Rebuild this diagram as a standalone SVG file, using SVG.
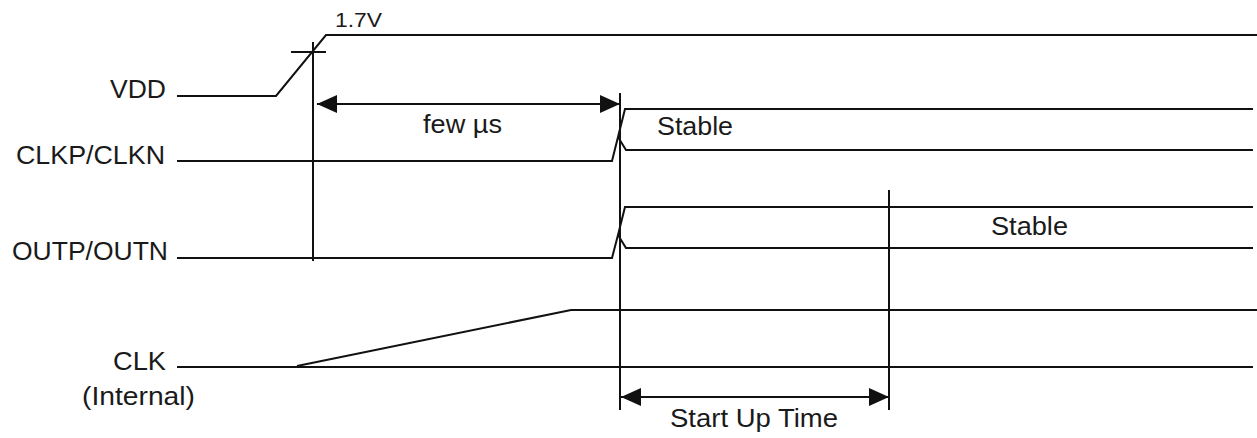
<svg xmlns="http://www.w3.org/2000/svg" width="1257" height="438" viewBox="0 0 1257 438">
<style>
.w{fill:none;stroke:#111;stroke-width:2;stroke-linejoin:miter}
.t{font-family:"Liberation Sans",Arial,sans-serif;font-size:25px;fill:#1a1a1a}
.s{font-size:20px}
.e{text-anchor:end}
</style>
<defs>
<marker id="ah" viewBox="0 0 20 18" refX="20" refY="9" markerWidth="20" markerHeight="18" markerUnits="userSpaceOnUse" orient="auto-start-reverse">
<path d="M0,0 L20,9 L0,18 z" fill="#111"/>
</marker>
</defs>
<rect width="1257" height="438" fill="#fff"/>

<g id="vdd">
<text class="t" x="110" y="98" textLength="56" lengthAdjust="spacingAndGlyphs">VDD</text>
<polyline class="w" points="177,96 276,96 326,35 1257,35"/>
<line class="w" x1="291" y1="52" x2="326" y2="52"/>
<text class="t s" x="335" y="27" textLength="47" lengthAdjust="spacingAndGlyphs">1.7V</text>
</g>

<g id="clkp-clkn">
<text class="t" x="16" y="164" textLength="149" lengthAdjust="spacingAndGlyphs">CLKP/CLKN</text>
<polyline class="w" points="177,161 612,161 618,137 625,109 1253,109"/>
<polyline class="w" points="618,137 626,150 1253,150"/>
<text class="t" x="657" y="135" textLength="76" lengthAdjust="spacingAndGlyphs">Stable</text>
</g>

<g id="outp-outn">
<text class="t" x="12" y="260" textLength="156" lengthAdjust="spacingAndGlyphs">OUTP/OUTN</text>
<polyline class="w" points="177,258 612,258 618,235 625,207 1253,207"/>
<polyline class="w" points="618,235 626,248 1253,248"/>
<text class="t" x="991" y="235" textLength="77" lengthAdjust="spacingAndGlyphs">Stable</text>
</g>

<g id="clk-internal">
<text class="t" x="113" y="370" textLength="53" lengthAdjust="spacingAndGlyphs">CLK</text>
<text class="t" x="82" y="405" textLength="113" lengthAdjust="spacingAndGlyphs">(Internal)</text>
<line class="w" x1="177" y1="367" x2="1253" y2="367"/>
<polyline class="w" points="297,366 571,310 1257,310"/>
</g>

<g id="connectors">
<line class="w" x1="313" y1="42" x2="313" y2="261"/>
<line class="w" x1="620" y1="93" x2="620" y2="410"/>
<line class="w" x1="889" y1="190" x2="889" y2="410"/>
<line class="w" x1="317" y1="104" x2="620" y2="104" marker-start="url(#ah)" marker-end="url(#ah)"/>
<line class="w" x1="621" y1="397" x2="889" y2="397" marker-start="url(#ah)" marker-end="url(#ah)"/>
<text class="t" x="423" y="133" textLength="79" lengthAdjust="spacingAndGlyphs">few µs</text>
<text class="t" x="670" y="427" textLength="168" lengthAdjust="spacingAndGlyphs">Start Up Time</text>
</g>
</svg>
